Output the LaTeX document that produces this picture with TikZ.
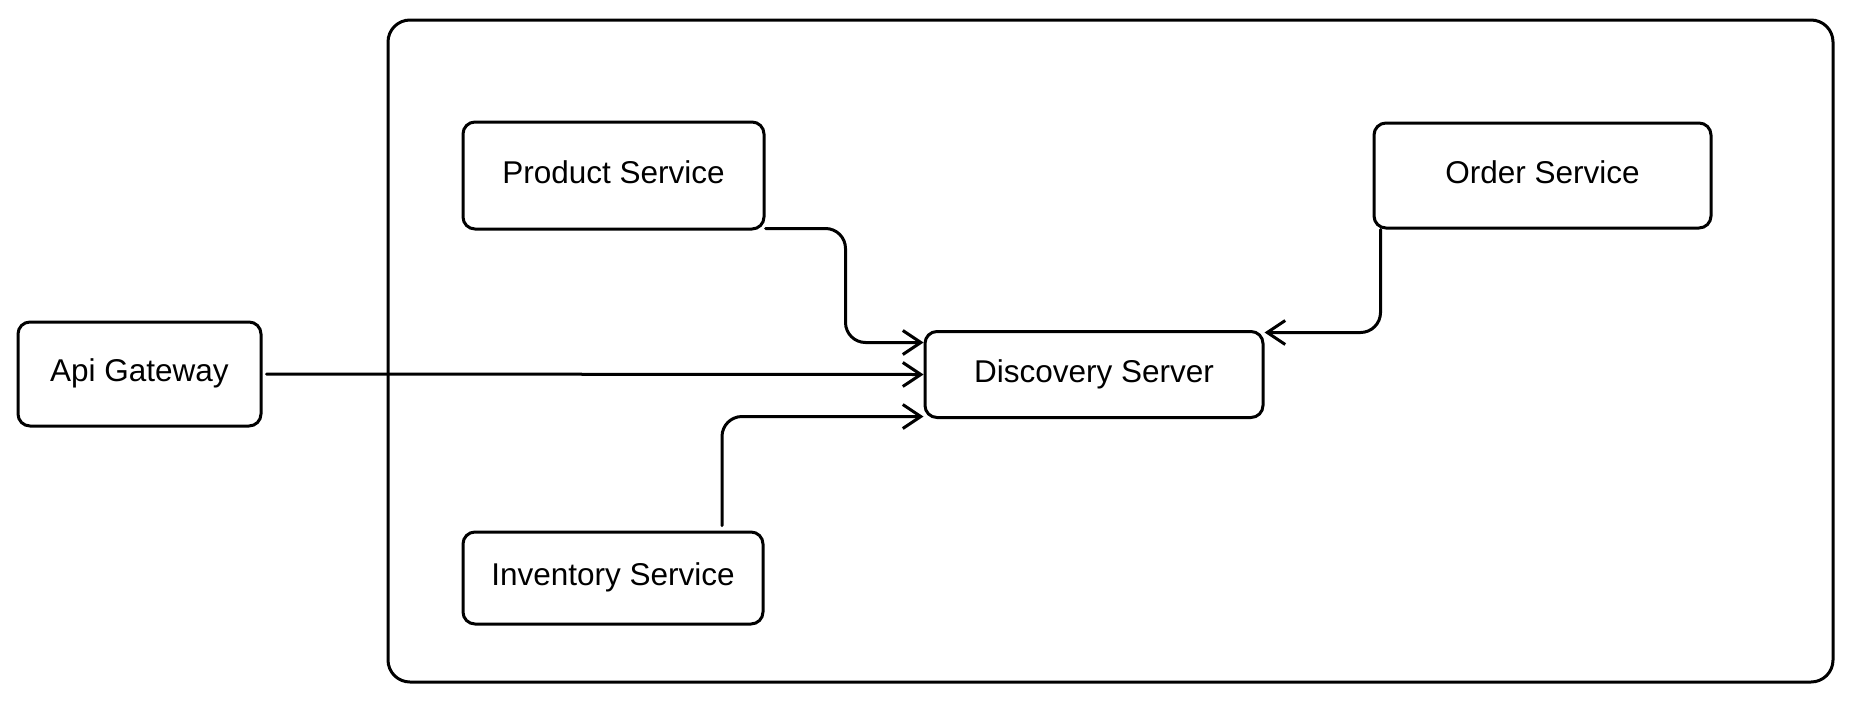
\documentclass[tikz,border=0pt]{standalone}
\usepackage{fontspec}
\setmainfont{Liberation Sans}
\usetikzlibrary{arrows.meta}

\begin{document}
\begin{tikzpicture}[x=1pt, y=-1pt, line width=3.0pt, line cap=round, line join=round,
  box/.style={draw, rounded corners=12pt, inner sep=0pt, text height=24pt, text depth=9pt,
    font=\fontsize{31.5}{38}\selectfont},
  link/.style={rounded corners=20pt, -{Straight Barb[length=18pt,width=24pt]}}]

  %% ════ 外框 ════
  \node[box, rounded corners=22pt, minimum width=1445pt, minimum height=662pt] (zone) at (1110.5,351.0) {};

  %% ════ 各服务方块 ════
  \node[box, minimum width=243pt, minimum height=104pt] (gw)    at (139.5,374.0)  {Api Gateway};
  \node[box, minimum width=301pt, minimum height=107pt] (prod)  at (613.5,175.5)  {Product Service};
  \node[box, minimum width=300pt, minimum height=92pt]  (inv)   at (613.0,578.0)  {Inventory Service};
  \node[box, minimum width=338pt, minimum height=86pt]  (disc)  at (1094.0,374.5) {Discovery Server};
  \node[box, minimum width=337pt, minimum height=105pt] (order) at (1542.5,175.5) {Order Service};

  %% ════ 连线（都指向 Discovery Server）════
  \draw[link, shorten <=4pt] (gw.east) -- (disc.west);
  \draw[link] ([yshift=2pt]prod.south east) -- ++(80,0) |- ([yshift=32pt]disc.west);
  \draw[link, shorten <=5pt] ([xshift=109pt]inv.north) |- ([yshift=-42pt]disc.west);
  \draw[link] ([xshift=8pt]order.south west) |- ([yshift=42pt]disc.east);

  % 钉死画布
  \pgfresetboundingbox
  \path[use as bounding box] (0,0) rectangle (1854,702);
\end{tikzpicture}
\end{document}
